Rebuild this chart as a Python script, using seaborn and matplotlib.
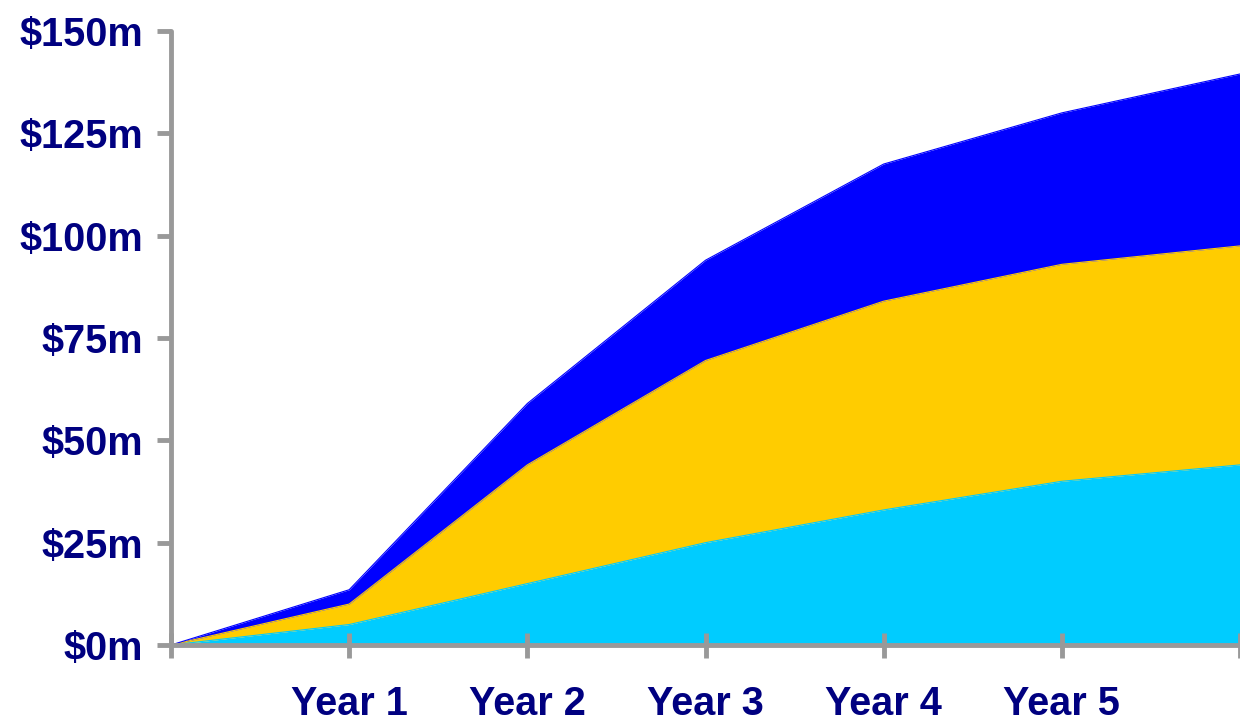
import numpy as np
import pandas as pd
import matplotlib
matplotlib.use("Agg")
import matplotlib.pyplot as plt
import seaborn as sns

positions = [0, 1, 2, 3, 4, 5, 6]
tick_labels = ["", "Year 1", "Year 2", "Year 3", "Year 4", "Year 5", ""]
series_names = ["Base", "Middle", "Top"]
base = [0, 5, 15, 25, 33, 40, 44]
middle = [0, 5, 29, 44.5, 51, 53, 53.5]
top = [0, 3.5, 15, 24.5, 33.5, 37, 42]
colors = ["#00CCFF", "#FFCC00", "#0000FF"]
y_ticks = [0, 25, 50, 75, 100, 125, 150]
y_labels = ["$0m", "$25m", "$50m", "$75m", "$100m", "$125m", "$150m"]

sns.set_style("white")
plt.rcParams["font.family"] = ["Liberation Sans", "DejaVu Sans"]

fig = plt.figure(figsize=(12.4, 7.21), dpi=100)
ax = fig.add_axes([171 / 1240, 76 / 721, 1 - 171 / 1240, (645 - 31) / 721])

stack = np.vstack([base, middle, top])
cum = np.cumsum(stack, axis=0)
df = pd.DataFrame({"x": positions})
lower = np.zeros(len(positions))
for name, upper, c in zip(series_names, cum, colors):
    df[name] = upper
    sns.lineplot(data=df, x="x", y=name, ax=ax, color=c, linewidth=0.8)
    ax.fill_between(positions, lower, upper, color=c, linewidth=0)
    lower = upper

ax.set_xlim(0, 6)
ax.set_ylim(0, 150)
ax.set_xlabel("")
ax.set_ylabel("")
ax.set_xticks(positions)
ax.set_xticklabels(tick_labels)
ax.set_yticks(y_ticks)
ax.set_yticklabels(y_labels)

for s in ["top", "right"]:
    ax.spines[s].set_visible(False)
for s in ["left", "bottom"]:
    ax.spines[s].set_color("#999999")
    ax.spines[s].set_linewidth(3.5)
    ax.spines[s].set_capstyle("round")

ax.tick_params(axis="x", bottom=True, direction="inout", length=18, width=3.5, color="#999999",
               pad=20, labelsize=28.5, labelcolor="#000080")
ax.tick_params(axis="y", left=True, direction="out", length=10, width=3.5, color="#999999",
               pad=10, labelsize=28.5, labelcolor="#000080")
for lbl in ax.get_xticklabels() + ax.get_yticklabels():
    lbl.set_fontweight("bold")
for t in ax.xaxis.get_ticklines() + ax.yaxis.get_ticklines():
    t.set_solid_capstyle("round")
    t.set_clip_on(False)
    t.set_zorder(6)
ax.set_axisbelow(False)
for s in ax.spines.values():
    s.set_zorder(5)

fig.savefig("out.png", dpi=100)
